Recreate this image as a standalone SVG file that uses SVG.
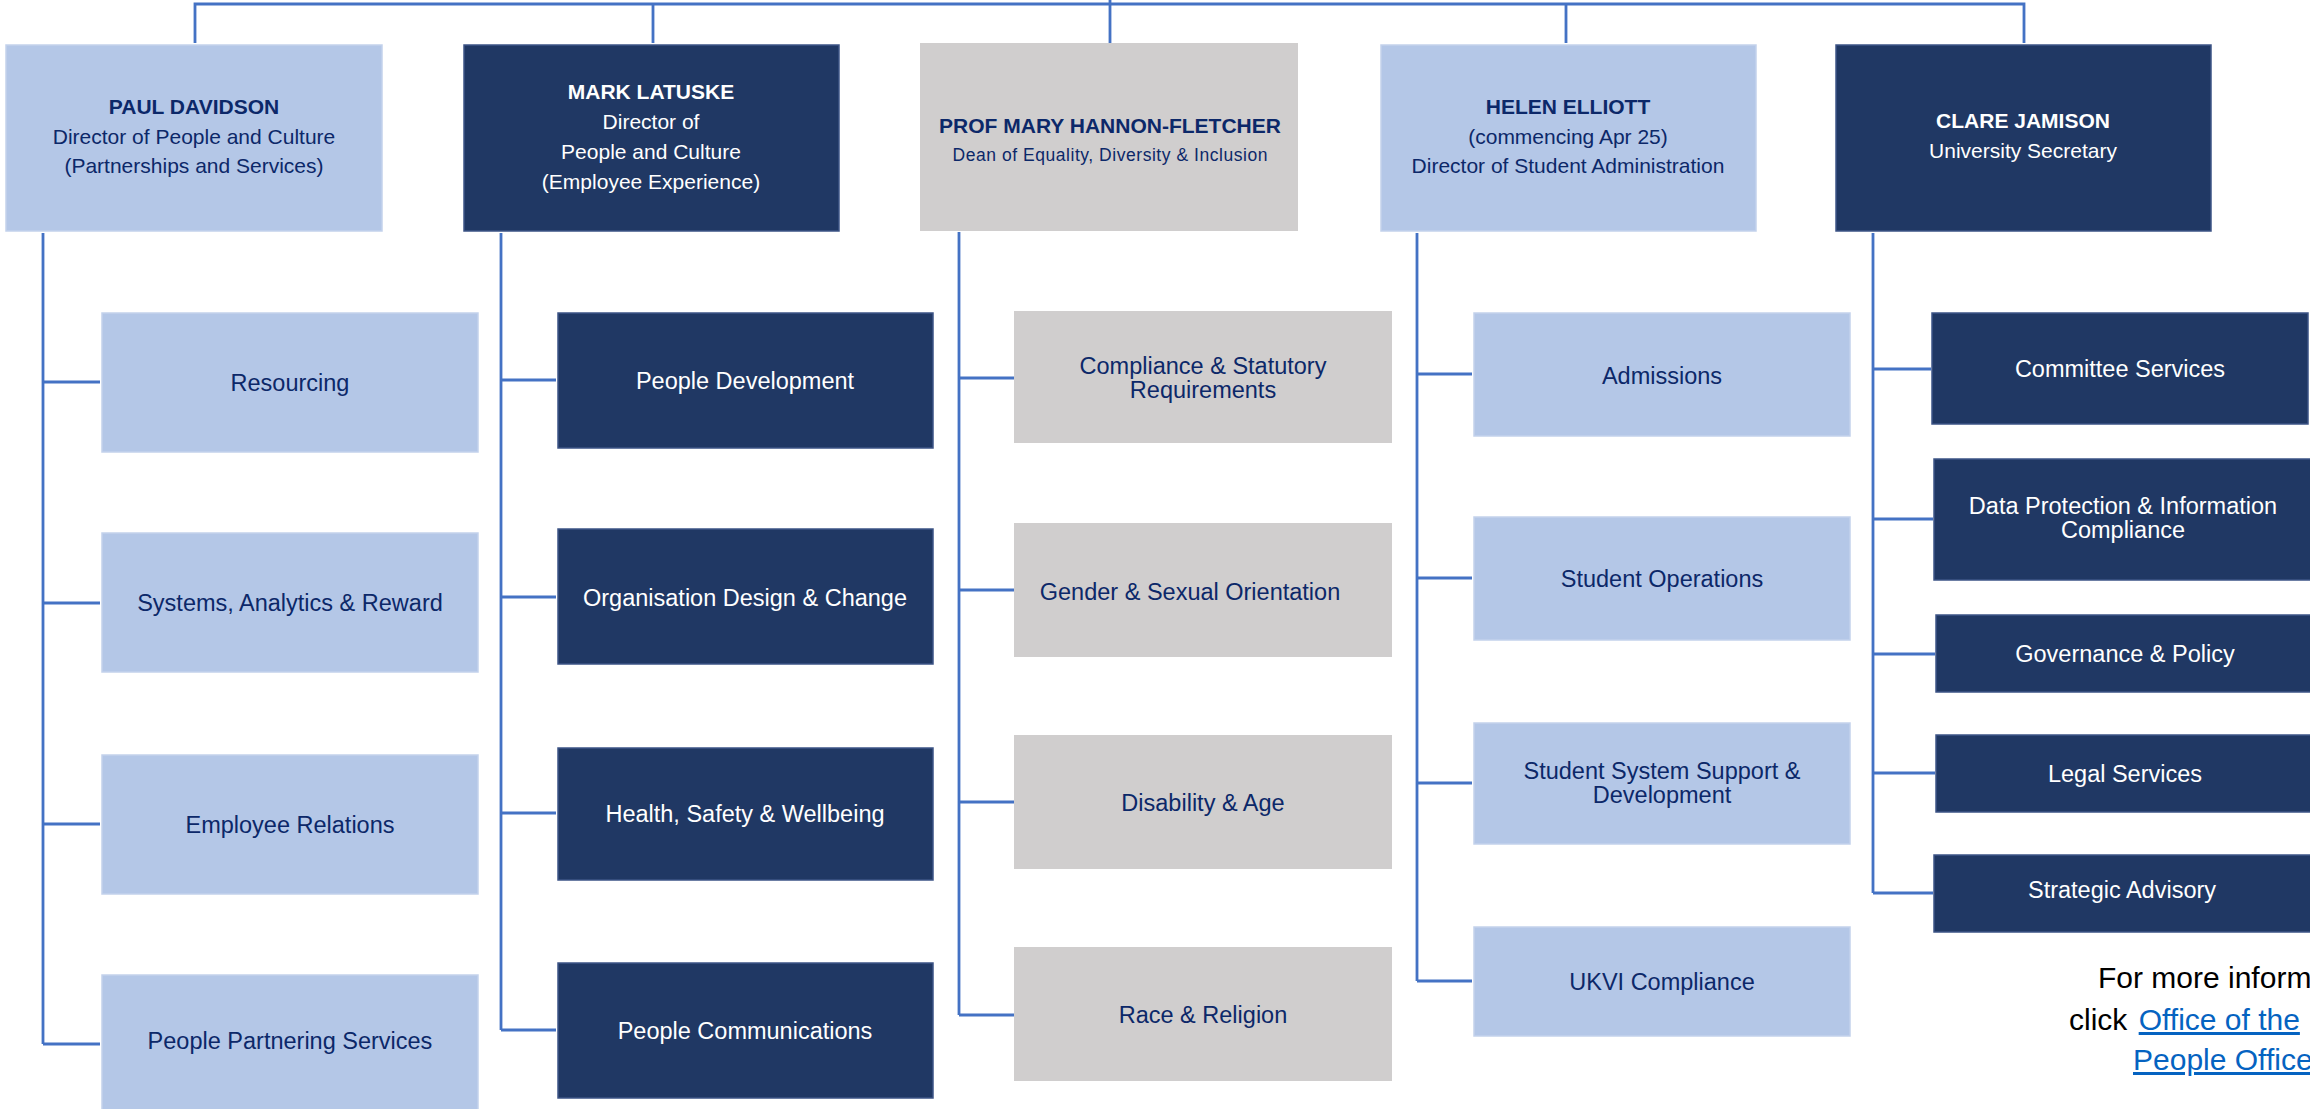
<svg xmlns="http://www.w3.org/2000/svg" width="2310" height="1109" viewBox="0 0 2310 1109">
<style>
.bg{fill:#ffffff}
.lt{fill:#B4C7E7;stroke:#C3D2EC;stroke-width:1.5}
.dk{fill:#203864;stroke:#3D5486;stroke-width:1.5}
.gr{fill:#D0CECE}
text{font-family:"Liberation Sans",Arial,sans-serif;text-anchor:middle}
.h{font-size:21px}
.b{font-weight:bold}
.c{font-size:23.5px}
.tn{fill:#0C2869}
.tw{fill:#ffffff}
.con path{fill:none;stroke:#4472C4;stroke-width:2.8}
.note{font-size:30px;text-anchor:start;fill:#000000}
.lnk{fill:#0563C1;text-decoration:underline}
</style>
<rect class="bg" x="0" y="0" width="2310" height="1109"/>
<g class="con" id="connectors">
<path d="M195,43 V4 H2024 V43 M1110,0 V43 M653,4 V43 M1566,4 V43"/>
<path d="M43,233 V1044 M43,382 H100 M43,603 H100 M43,824 H100 M43,1044 H100"/>
<path d="M501,233 V1030 M501,380 H556 M501,597 H556 M501,813 H556 M501,1030 H556"/>
<path d="M959,232 V1015 M959,378 H1014 M959,590 H1014 M959,802 H1014 M959,1015 H1014"/>
<path d="M1417,233 V981 M1417,374 H1472 M1417,578 H1472 M1417,783 H1472 M1417,981 H1472"/>
<path d="M1873,233 V893 M1873,369 H1931 M1873,519 H1933 M1873,654 H1935 M1873,773 H1935 M1873,893 H1933"/>
</g>
<g id="paul-davidson">
<rect class="lt" x="6" y="45" width="376" height="186"/>
<text class="h tn"><tspan class="b" x="194" y="114">PAUL DAVIDSON</tspan><tspan x="194" y="144">Director of People and Culture</tspan><tspan x="194" y="173">(Partnerships and Services)</tspan></text>
</g>
<g id="mark-latuske">
<rect class="dk" x="464" y="45" width="375" height="186"/>
<text class="h tw"><tspan class="b" x="651" y="99">MARK LATUSKE</tspan><tspan x="651" y="129">Director of</tspan><tspan x="651" y="159">People and Culture</tspan><tspan x="651" y="189">(Employee Experience)</tspan></text>
</g>
<g id="mary-hannon-fletcher">
<rect class="gr" x="920" y="43" width="378" height="188"/>
<text class="h tn b" x="1110" y="133">PROF MARY HANNON-FLETCHER</text>
<text class="tn" x="1110" y="161" font-size="17.5" textLength="315" lengthAdjust="spacing">Dean of Equality, Diversity &amp; Inclusion</text>
</g>
<g id="helen-elliott">
<rect class="lt" x="1381" y="45" width="375" height="186"/>
<text class="h tn"><tspan class="b" x="1568" y="114">HELEN ELLIOTT</tspan><tspan x="1568" y="144">(commencing Apr 25)</tspan><tspan x="1568" y="173">Director of Student Administration</tspan></text>
</g>
<g id="clare-jamison">
<rect class="dk" x="1836" y="45" width="375" height="186"/>
<text class="h tw"><tspan class="b" x="2023" y="128">CLARE JAMISON</tspan><tspan x="2023" y="158">University Secretary</tspan></text>
</g>
<g id="resourcing"><rect class="lt" x="102" y="313" width="376" height="139"/><text class="c tn" x="290" y="391">Resourcing</text></g>
<g id="systems-analytics-reward"><rect class="lt" x="102" y="533" width="376" height="139"/><text class="c tn" x="290" y="611">Systems, Analytics &amp; Reward</text></g>
<g id="employee-relations"><rect class="lt" x="102" y="755" width="376" height="139"/><text class="c tn" x="290" y="833">Employee Relations</text></g>
<g id="people-partnering-services"><rect class="lt" x="102" y="975" width="376" height="140"/><text class="c tn" x="290" y="1049">People Partnering Services</text></g>
<g id="people-development"><rect class="dk" x="558" y="313" width="375" height="135"/><text class="c tw" x="745" y="389">People Development</text></g>
<g id="organisation-design-change"><rect class="dk" x="558" y="529" width="375" height="135"/><text class="c tw" x="745" y="606">Organisation Design &amp; Change</text></g>
<g id="health-safety-wellbeing"><rect class="dk" x="558" y="748" width="375" height="132"/><text class="c tw" x="745" y="822">Health, Safety &amp; Wellbeing</text></g>
<g id="people-communications"><rect class="dk" x="558" y="963" width="375" height="135"/><text class="c tw" x="745" y="1039">People Communications</text></g>
<g id="compliance-statutory"><rect class="gr" x="1014" y="311" width="378" height="132"/><text class="c tn"><tspan x="1203" y="374">Compliance &amp; Statutory</tspan><tspan x="1203" y="398">Requirements</tspan></text></g>
<g id="gender-sexual-orientation"><rect class="gr" x="1014" y="523" width="378" height="134"/><text class="c tn" x="1190" y="600">Gender &amp; Sexual Orientation</text></g>
<g id="disability-age"><rect class="gr" x="1014" y="735" width="378" height="134"/><text class="c tn" x="1203" y="811">Disability &amp; Age</text></g>
<g id="race-religion"><rect class="gr" x="1014" y="947" width="378" height="134"/><text class="c tn" x="1203" y="1023">Race &amp; Religion</text></g>
<g id="admissions"><rect class="lt" x="1474" y="313" width="376" height="123"/><text class="c tn" x="1662" y="384">Admissions</text></g>
<g id="student-operations"><rect class="lt" x="1474" y="517" width="376" height="123"/><text class="c tn" x="1662" y="587">Student Operations</text></g>
<g id="student-system-support"><rect class="lt" x="1474" y="723" width="376" height="121"/><text class="c tn"><tspan x="1662" y="779">Student System Support &amp;</tspan><tspan x="1662" y="803">Development</tspan></text></g>
<g id="ukvi-compliance"><rect class="lt" x="1474" y="927" width="376" height="109"/><text class="c tn" x="1662" y="990">UKVI Compliance</text></g>
<g id="committee-services"><rect class="dk" x="1932" y="313" width="376" height="111"/><text class="c tw" x="2120" y="377">Committee Services</text></g>
<g id="data-protection"><rect class="dk" x="1934" y="459" width="380" height="121"/><text class="c tw"><tspan x="2123" y="514">Data Protection &amp; Information</tspan><tspan x="2123" y="538">Compliance</tspan></text></g>
<g id="governance-policy"><rect class="dk" x="1936" y="615" width="380" height="77"/><text class="c tw" x="2125" y="662">Governance &amp; Policy</text></g>
<g id="legal-services"><rect class="dk" x="1936" y="735" width="380" height="77"/><text class="c tw" x="2125" y="782">Legal Services</text></g>
<g id="strategic-advisory"><rect class="dk" x="1934" y="855" width="378" height="77"/><text class="c tw" x="2122" y="898">Strategic Advisory</text></g>
<g id="note">
<text class="note" x="2098" y="988">For more inform</text>
<text class="note" x="2069" y="1030">click <tspan class="lnk" dx="3">Office of the</tspan></text>
<text class="note lnk" x="2133" y="1070">People Office</text>
</g>
</svg>
